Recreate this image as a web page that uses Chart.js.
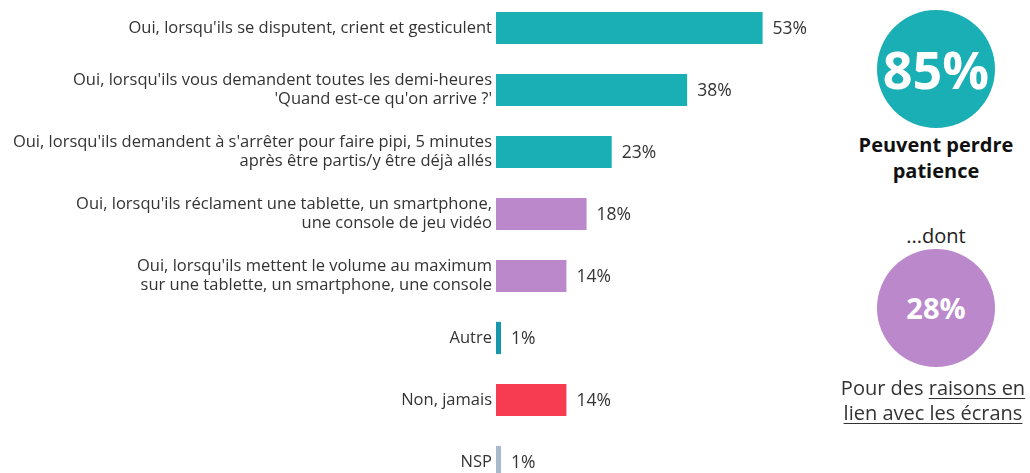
<!DOCTYPE html>
<html>
<head>
<meta charset="utf-8">
<script src="https://cdn.jsdelivr.net/npm/chart.js@4"></script>
<style>
  html, body { margin: 0; padding: 0; background: #fff; overflow: hidden; }
  body { width: 1030px; height: 473px; position: relative; font-family: "Open Sans", sans-serif; }
  #chartBox { position: absolute; left: 0; top: -3px; width: 830px; height: 496px; }
  .circle { position: absolute; border-radius: 50%; color: #fff; font-weight: bold; text-align: center; }
  .txt { position: absolute; text-align: center; color: #222; }
  u { text-decoration-thickness: 1px; text-underline-offset: 3px; }
</style>
</head>
<body>
<div id="chartBox"><canvas id="myChart"></canvas></div>

<div class="circle" id="c1" style="left:877px; top:10px; width:118px; height:118px; background:#1aaeb5; font-size:52px; line-height:118px;"></div>
<div class="txt" style="left:830px; top:132px; width:212px; font-size:20px; font-weight:bold; line-height:26px; color:#111;">Peuvent perdre<br>patience</div>
<div class="txt" style="left:830px; top:224px; width:212px; font-size:20px; line-height:24px;">...dont</div>
<div class="circle" id="c2" style="left:877px; top:249px; width:118px; height:118px; background:#bb88cb; font-size:29px; line-height:118px;"></div>
<div class="txt" style="left:826px; top:375px; width:214px; font-size:20px; line-height:25px; color:#333;">Pour des <u>raisons en</u><br><u>lien avec les écrans</u></div>

<script>
// categories
const labels = [
    ["Oui, lorsqu'ils se disputent, crient et gesticulent"],
    ["Oui, lorsqu'ils vous demandent toutes les demi-heures", "'Quand est-ce qu'on arrive ?'"],
    ["Oui, lorsqu'ils demandent à s'arrêter pour faire pipi, 5 minutes", "après être partis/y être déjà allés"],
    ["Oui, lorsqu'ils réclament une tablette, un smartphone,", "une console de jeu vidéo"],
    ["Oui, lorsqu'ils mettent le volume au maximum", "sur une tablette, un smartphone, une console"],
    ["Autre"],
    ["Non, jamais"],
    ["NSP"]
];
const values = [53, 38, 23, 18, 14, 1, 14, 1];
const barColors = ['#1aaeb5', '#1aaeb5', '#1aaeb5', '#bb88cb', '#bb88cb', '#1697ab', '#f73b50', '#a9b9cd'];

// summary circles
const summaryValues = [85, 28];
document.getElementById('c1').textContent = summaryValues[0] + '%';
document.getElementById('c2').textContent = summaryValues[1] + '%';

// draw the value next to each bar
const valueLabels = {
    id: 'valueLabels',
    afterDatasetsDraw(chart) {
        const ctx = chart.ctx;
        const meta = chart.getDatasetMeta(0);
        ctx.save();
        ctx.font = '17.5px "Open Sans", sans-serif';
        ctx.fillStyle = '#333';
        ctx.textBaseline = 'middle';
        ctx.textAlign = 'left';
        meta.data.forEach((bar, i) => {
            ctx.fillText(values[i] + '%', bar.x + 10, bar.y + 1);
        });
        ctx.restore();
    }
};

const ctx = document.getElementById('myChart').getContext('2d');
const myChart = new Chart(ctx, {
    type: 'bar',
    data: {
        labels: labels,
        datasets: [{
            data: values,
            backgroundColor: barColors,
            barPercentage: 0.52,
            categoryPercentage: 1
        }]
    },
    options: {
        indexAxis: 'y',
        responsive: true,
        maintainAspectRatio: false,
        animation: false,
        layout: { padding: 0 },
        plugins: {
            legend: { display: false },
            tooltip: { enabled: false }
        },
        scales: {
            x: {
                display: false,
                min: 0,
                max: 66.4
            },
            y: {
                grid: { display: false },
                border: { display: false },
                ticks: {
                    color: '#333',
                    padding: -4,
                    font: { family: '"Open Sans", sans-serif', size: 16.5, lineHeight: 1.15 }
                },
                afterFit: function(scale) {
                    scale.width = 496;
                    scale.paddingTop = 0;
                    scale.paddingBottom = 0;
                }
            }
        }
    },
    plugins: [valueLabels]
});
</script>
</body>
</html>
